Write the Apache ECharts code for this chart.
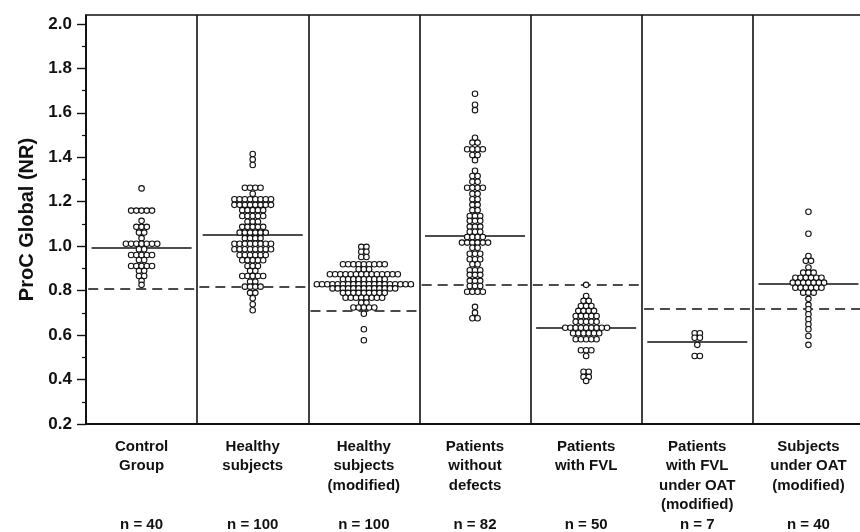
<!DOCTYPE html>
<html>
<head>
<meta charset="utf-8">
<script src="https://cdn.jsdelivr.net/npm/echarts@6/dist/echarts.min.js"></script>
<style>
html,body{margin:0;padding:0;background:#fff;}
#chart{width:860px;height:532px;}
</style>
</head>
<body>
<div id="chart"></div>
<script>
// ---- data ----
const groupNames = ['Control\nGroup', 'Healthy\nsubjects', 'Healthy\nsubjects\n(modified)', 'Patients\nwithout\ndefects', 'Patients\nwith FVL', 'Patients\nwith FVL\nunder OAT\n(modified)', 'Subjects\nunder OAT\n(modified)'];
const groupN = [40, 100, 100, 82, 50, 7, 40];

// value levels (rows of the dot plot) and number of dots per level
const controlLevels = [1.26, 1.16, 1.114, 1.087, 1.061, 1.036, 1.011, 0.986, 0.96, 0.938, 0.911, 0.889, 0.866, 0.844, 0.826];
const controlCounts = [1, 5, 1, 3, 2, 1, 7, 2, 5, 2, 5, 2, 2, 1, 1];

const healthyLevels = [1.415, 1.39, 1.365, 1.263, 1.236, 1.211, 1.186, 1.162, 1.136, 1.11, 1.087, 1.061, 1.036, 1.011, 0.986, 0.96, 0.937, 0.911, 0.889, 0.866, 0.84, 0.818, 0.79, 0.766, 0.739, 0.712];
const healthyCounts = [1, 1, 1, 4, 1, 8, 8, 5, 5, 3, 5, 6, 4, 8, 8, 6, 5, 3, 2, 5, 2, 4, 2, 1, 1, 1];

const healthyModLevels = [0.997, 0.975, 0.951, 0.919, 0.896, 0.874, 0.851, 0.829, 0.81, 0.79, 0.768, 0.746, 0.724, 0.696, 0.626, 0.577];
const healthyModCounts = [2, 2, 2, 9, 3, 14, 9, 19, 13, 9, 8, 2, 5, 1, 1, 1];

const noDefectLevels = [1.686, 1.636, 1.612, 1.488, 1.466, 1.436, 1.41, 1.387, 1.339, 1.316, 1.29, 1.263, 1.236, 1.211, 1.186, 1.162, 1.136, 1.114, 1.088, 1.065, 1.041, 1.016, 0.993, 0.966, 0.941, 0.919, 0.892, 0.871, 0.844, 0.821, 0.795, 0.727, 0.701, 0.676];
const noDefectCounts = [1, 1, 1, 1, 2, 4, 2, 1, 1, 2, 2, 4, 2, 2, 2, 2, 3, 3, 3, 3, 4, 6, 2, 3, 3, 2, 3, 3, 3, 3, 4, 1, 1, 2];

const fvlLevels = [0.826, 0.776, 0.754, 0.731, 0.709, 0.686, 0.66, 0.633, 0.608, 0.581, 0.532, 0.506, 0.435, 0.412, 0.394];
const fvlCounts = [1, 1, 2, 3, 4, 5, 5, 9, 6, 5, 3, 1, 2, 2, 1];

const fvlOatLevels = [0.608, 0.588, 0.556, 0.506];
const fvlOatCounts = [2, 2, 1, 2];

const oatLevels = [1.155, 1.056, 0.956, 0.934, 0.904, 0.881, 0.858, 0.836, 0.813, 0.791, 0.763, 0.736, 0.716, 0.694, 0.671, 0.649, 0.626, 0.596, 0.556];
const oatCounts = [1, 1, 1, 2, 1, 3, 6, 7, 6, 3, 1, 1, 1, 1, 1, 1, 1, 1, 1];

const meanValues = [0.995, 1.053, 0.82, 1.046, 0.633, 0.57, 0.83];
const cutoffValues = [0.808, 0.817, 0.71, 0.825, 0.825, 0.72, 0.72];

const yTickLabels = [0.2, 0.4, 0.6, 0.8, 1.0, 1.2, 1.4, 1.6, 1.8, 2.0];
const yMinorTicks = [0.3, 0.5, 0.7, 0.9, 1.1, 1.3, 1.5, 1.7, 1.9];

// ---- build ----
const groups = [
  [controlLevels, controlCounts],
  [healthyLevels, healthyCounts],
  [healthyModLevels, healthyModCounts],
  [noDefectLevels, noDefectCounts],
  [fvlLevels, fvlCounts],
  [fvlOatLevels, fvlOatCounts],
  [oatLevels, oatCounts]
];
const DOT_STEP = 0.047; // horizontal spacing between neighbouring dots, in panel units
const dots = [];
groups.forEach(([levels, counts], gi) => {
  levels.forEach((v, li) => {
    const k = counts[li];
    for (let j = 0; j < k; j++) {
      dots.push([gi + 0.5 + (j - (k - 1) / 2) * DOT_STEP, v]);
    }
  });
});
const meanSegs = meanValues.map((m, i) => ({coords: [[i + 0.05, m], [i + 0.95, m]]}));
const cutSegs = cutoffValues.map((c, i) => ({coords: [[i + 0.02, c], [i + 0.98, c]]}));

const FONT = '"Liberation Sans", Arial, sans-serif';
const TXT = '#111';

const chart = echarts.init(document.getElementById('chart'), null, {renderer: 'canvas'});
chart.setOption({
  backgroundColor: '#fff',
  animation: false,
  grid: {left: 86, top: 15, width: 778, height: 409, containLabel: false, outerBoundsMode: 'none',
    show: true, borderColor: '#111', borderWidth: 1.6, backgroundColor: 'transparent'},
  xAxis: [
    {
      type: 'value', min: 0, max: 7, interval: 1,
      axisLine: {show: false}, axisTick: {show: false}, axisLabel: {show: false},
      splitLine: {show: true, lineStyle: {color: '#111', width: 1.6}}
    },
    {
      type: 'category', position: 'bottom', data: groupNames, boundaryGap: true,
      axisLine: {show: true, lineStyle: {color: '#111', width: 2}},
      axisTick: {show: false},
      axisLabel: {
        interval: 0, margin: 13, color: TXT, fontFamily: FONT, fontWeight: 'bold', fontSize: 15, lineHeight: 19.5,
        formatter: function (val, idx) {
          const lines = val.split('\n');
          while (lines.length < 4) lines.push('');
          return lines.join('\n') + '\nn = ' + groupN[idx];
        }
      }
    }
  ],
  yAxis: [
    {
      type: 'value', min: 0.2, max: 2.04,
      name: 'ProC Global (NR)', nameLocation: 'middle', nameGap: 48, nameRotate: 90,
      nameTextStyle: {color: TXT, fontFamily: FONT, fontWeight: 'bold', fontSize: 20},
      axisLine: {show: true, lineStyle: {color: '#111', width: 1.6}},
      axisTick: {show: true, length: 9, customValues: yTickLabels, lineStyle: {color: '#111', width: 1.4}},
      axisLabel: {customValues: yTickLabels, margin: 14, color: TXT, fontFamily: FONT, fontWeight: 'bold', fontSize: 17,
        formatter: v => v.toFixed(1)},
      splitLine: {show: false}
    },
    {
      type: 'value', min: 0.2, max: 2.04, position: 'left',
      axisLine: {show: false},
      axisTick: {show: true, length: 4, customValues: yMinorTicks, lineStyle: {color: '#111', width: 1.2}},
      axisLabel: {show: false},
      splitLine: {show: false}
    }
  ],
  series: [
    {
      type: 'lines', coordinateSystem: 'cartesian2d', xAxisIndex: 0, yAxisIndex: 0,
      data: cutSegs, silent: true, z: 2,
      lineStyle: {color: '#111', width: 1.5, type: [10, 6], opacity: 1}
    },
    {
      type: 'lines', coordinateSystem: 'cartesian2d', xAxisIndex: 0, yAxisIndex: 0,
      data: meanSegs, silent: true, z: 2,
      lineStyle: {color: '#111', width: 1.5, type: 'solid', opacity: 1}
    },
    {
      type: 'scatter', xAxisIndex: 0, yAxisIndex: 0, data: dots, z: 3,
      symbol: 'circle', symbolSize: 5.5,
      itemStyle: {color: '#fff', borderColor: '#111', borderWidth: 1.1, opacity: 1}
    }
  ]
});
</script>
</body>
</html>
